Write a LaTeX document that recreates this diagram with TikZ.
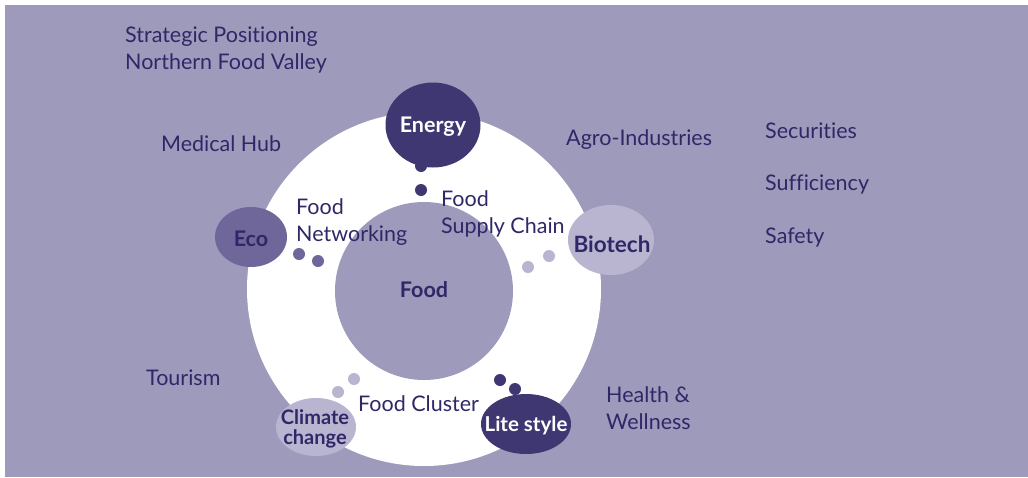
\documentclass[tikz,border=0pt]{standalone}
\usepackage{fontspec}
\setmainfont{Lato}[Ligatures=NoCommon]
\usetikzlibrary{shapes.geometric}
\definecolor{bgc}{HTML}{9E9ABB}
\definecolor{txt}{HTML}{2E2868}
\definecolor{darkb}{HTML}{3F3772}
\definecolor{midb}{HTML}{6F6699}
\definecolor{lightb}{HTML}{B9B5D1}
\tikzset{
  lbl/.style={anchor=west, text=txt, font=\fontsize{21.5}{26.5}\selectfont, inner sep=0pt, align=left},
  blob/.style={ellipse, inner sep=0pt},
  blobtxt/.style={inner sep=0pt, font=\fontsize{21.5}{21}\selectfont\bfseries, align=center},
  dot/.style={circle, inner sep=0pt, minimum size=12pt},
}
\begin{document}
\begin{tikzpicture}[x=1pt,y=-1pt]
\useasboundingbox (0,0) rectangle (1028,477);
\fill[white] (0,0) rectangle (1028,477);
\fill[bgc] (5,5) rectangle (1028,477);
% ring
\fill[white] (424,289) circle (177);
\fill[bgc] (424,291) circle (89);
% outer labels
\node[lbl] (strat) at (125,50) {Strategic Positioning\\Northern Food Valley};
\node[lbl] (med) at (161,144) {Medical Hub};
\node[lbl] (agro) at (566,140) {Agro-Industries};
\node[lbl] (sec) at (765,131) {Securities};
\node[lbl] (suf) at (765,184) {Sufficiency};
\node[lbl] (saf) at (765,238) {Safety};
\node[lbl] (tour) at (146,378) {Tourism};
\node[lbl] (health) at (606,408) {Health \&\\Wellness};
% inner labels
\node[lbl] (fnet) at (296,222) {Food\\Networking};
\node[lbl] (fsup) at (441,214) {Food\\Supply Chain};
\node[lbl] (fclu) at (358,404) {Food Cluster};
\node[blobtxt, text=txt] (food) at (424,290) {Food};
% blobs
\node[blob, fill=darkb, minimum width=95pt, minimum height=85pt] (energy) at (433,125) {};
\node[blobtxt, text=white] (energyl) at (433,127) {Energy};
\node[blob, fill=midb, minimum width=72pt, minimum height=60pt] (eco) at (251,237) {};
\node[blobtxt, text=txt] (ecol) at (251,239) {Eco};
\node[blob, fill=lightb, minimum width=86pt, minimum height=70pt] (bio) at (611,240) {};
\node[blobtxt, text=txt, font=\fontsize{22.5}{21}\selectfont\bfseries] (biol) at (612,244) {Biotech};
\node[blob, fill=lightb, minimum width=80pt, minimum height=58pt] (clim) at (316,427) {};
\node[blobtxt, text=txt, font=\fontsize{20}{20}\selectfont\bfseries] (climl) at (315,429) {Climate\\change};
\node[blob, fill=darkb, minimum width=90pt, minimum height=60pt] (lite) at (526,424) {};
\node[blobtxt, text=white, font=\fontsize{20.5}{21}\selectfont\bfseries] (litel) at (526,426) {Lite style};
% dots
\node[dot, fill=darkb] (e1) at (421,166) {};
\node[dot, fill=darkb] (e2) at (421,190) {};
\node[dot, fill=midb] (c1) at (299,254) {};
\node[dot, fill=midb] (c2) at (318,261) {};
\node[dot, fill=lightb] (b1) at (549,256) {};
\node[dot, fill=lightb] (b2) at (528,267) {};
\node[dot, fill=lightb] (k1) at (338,392) {};
\node[dot, fill=lightb] (k2) at (354,379) {};
\node[dot, fill=darkb] (l1) at (500,380) {};
\node[dot, fill=darkb] (l2) at (515,389) {};
\end{tikzpicture}
\end{document}
